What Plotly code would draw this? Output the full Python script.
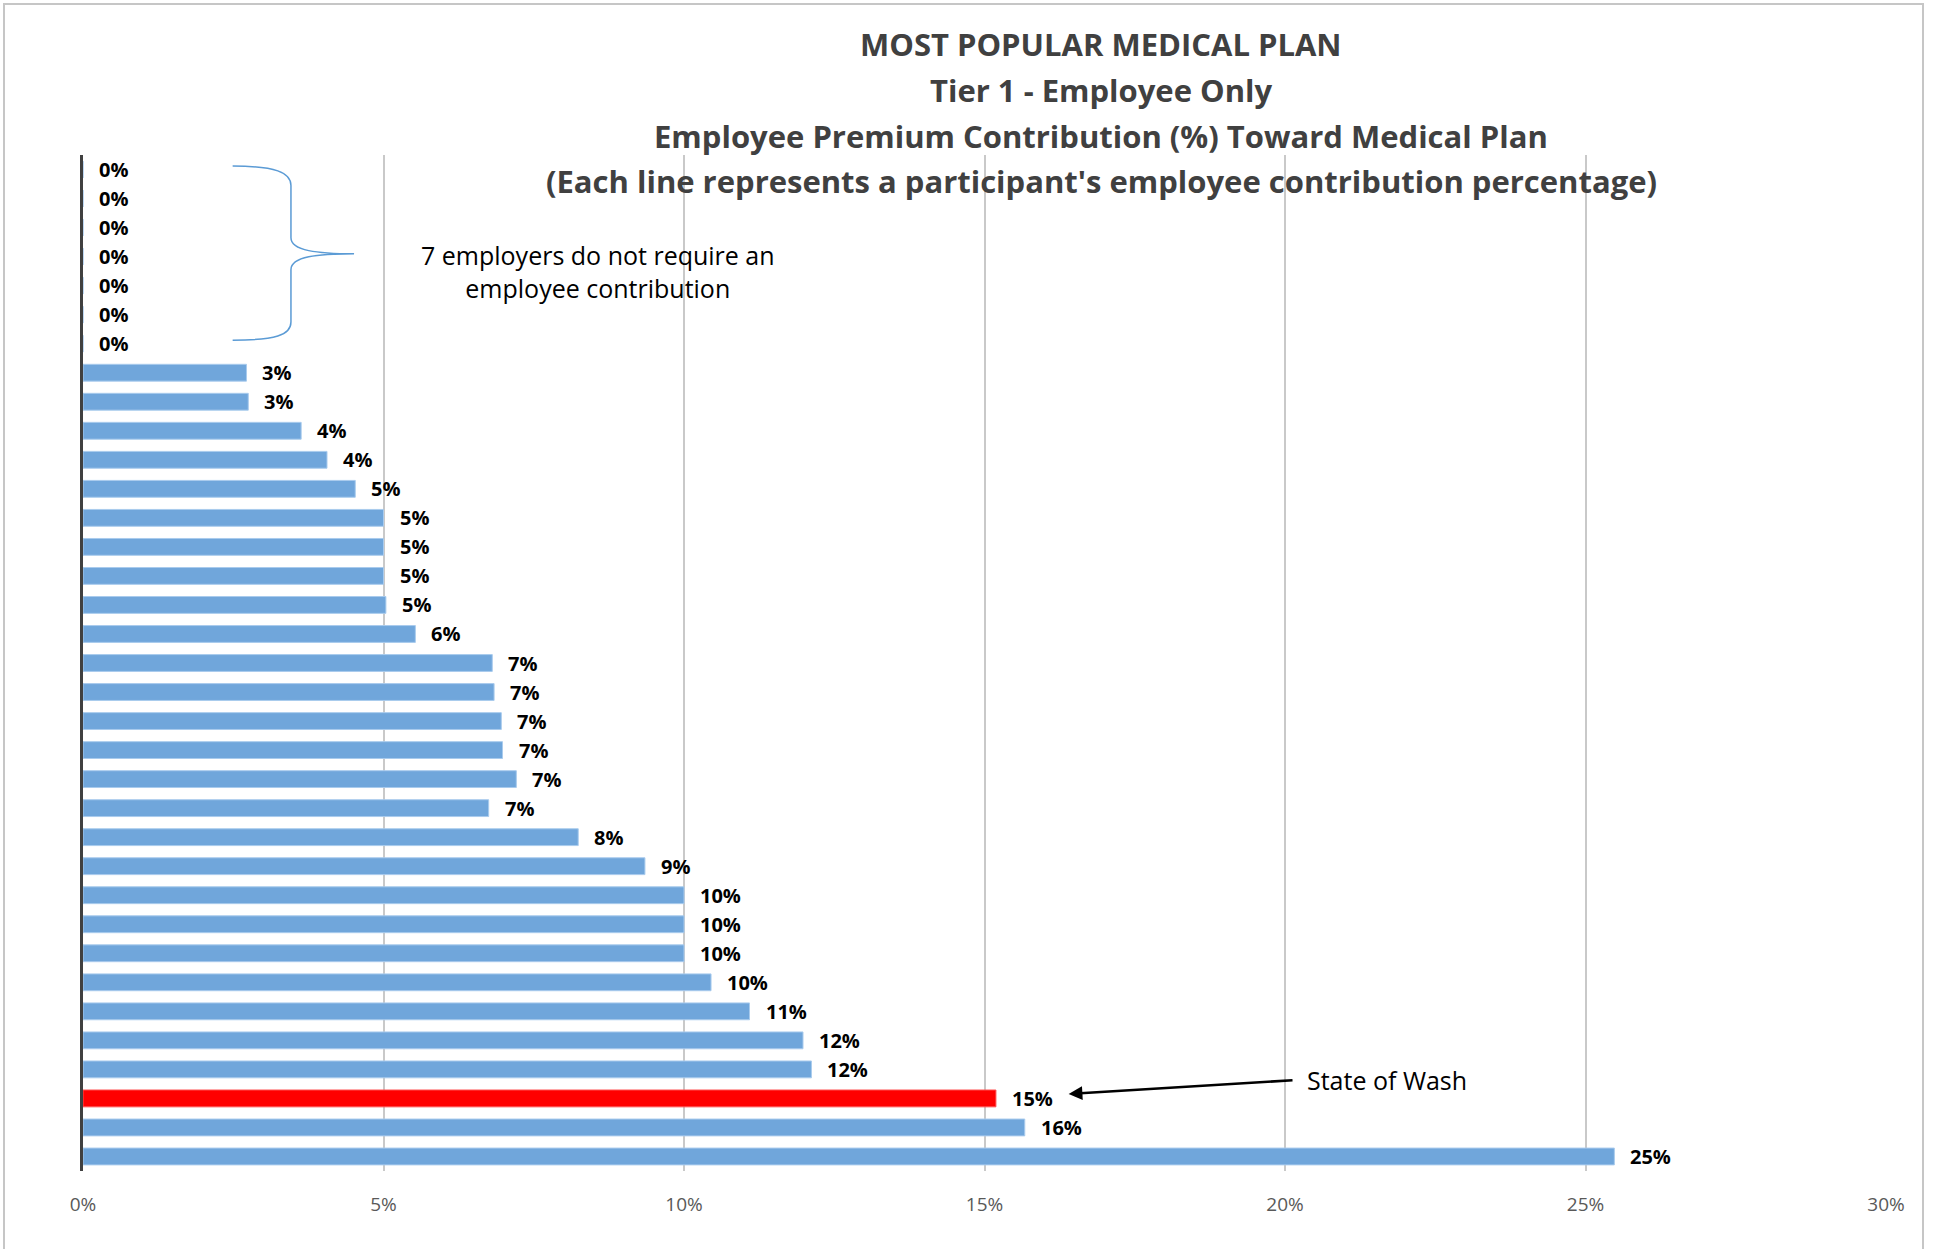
import plotly.graph_objects as go

# Employee share of the Tier 1 (employee-only) premium, one row per participant, in %
contrib_pct = [
    0, 0, 0, 0, 0, 0, 0,
    2.72, 2.75, 3.63, 4.06, 4.53,
    5.0, 5.0, 5.0, 5.04, 5.53,
    6.81, 6.84, 6.96, 6.98, 7.21, 6.75,
    8.24, 9.35,
    10.0, 10.0, 10.0, 10.45, 11.09,
    11.98, 12.12, 15.19, 15.67, 25.48,
]
highlight_row = 32  # State of Washington
x_ticks = [0, 5, 10, 15, 20, 25, 30]
x_tick_text = ["0%", "5%", "10%", "15%", "20%", "25%", "30%"]
title_lines = [
    "MOST POPULAR MEDICAL PLAN",
    "Tier 1 - Employee Only",
    "Employee Premium Contribution (%) Toward Medical Plan",
    "(Each line represents a participant's employee contribution percentage)",
]
zero_note = "7 employers do not require an<br>employee contribution"
state_note = "State of Wash"

W, H = 1933, 1249
L, R, T, B = 83, 47, 155, 78
PW, PH = W - L - R, H - T - B

rows = list(range(len(contrib_pct)))
blue = "#70a6db"
red = "#ff0000"
colors = [red if i == highlight_row else blue for i in rows]
line_colors = ["#ff5050" if i == highlight_row else "#a9cbed" for i in rows]

fig = go.Figure()
fig.add_trace(go.Bar(
    x=contrib_pct, y=rows, orientation="h",
    marker=dict(color=colors, line=dict(color=line_colors, width=1)),
    width=0.58, hoverinfo="skip",
))

# value labels to the right of each bar
annotations = []
for i, v in zip(rows, contrib_pct):
    annotations.append(dict(
        x=v, y=i, xref="x", yref="y", text=f"{round(v)}%",
        showarrow=False, xanchor="left", yanchor="middle", xshift=14,
        font=dict(family="Open Sans", size=20, color="#000000", weight="bold"),
    ))

def px_x(px):
    return (px - L) / PW

def px_y(py):
    return (H - B - py) / PH

title_y = [44, 90, 136, 181]
for line, py in zip(title_lines, title_y):
    annotations.append(dict(
        x=px_x(1101), y=px_y(py), xref="paper", yref="paper", text=line,
        showarrow=False, xanchor="center", yanchor="middle",
        font=dict(family="Open Sans", size=31, color="#404040", weight="bold"),
    ))

annotations.append(dict(
    x=8.57, y=3.5, xref="x", yref="y", text=zero_note, showarrow=False,
    xanchor="center", yanchor="middle",
    font=dict(family="Open Sans", size=25, color="#000000"),
))

# State of Washington callout with arrow
annotations.append(dict(
    x=16.4, y=31.85, xref="x", yref="y", ax=20.15, ay=31.37, axref="x", ayref="y",
    text="", showarrow=True, arrowhead=2, arrowsize=1.1, arrowwidth=2.5,
    arrowcolor="#000000",
))
annotations.append(dict(
    x=20.33, y=31.37, xref="x", yref="y", text=state_note, showarrow=False,
    xanchor="left", yanchor="middle",
    font=dict(family="Open Sans", size=25, color="#000000"),
))

shapes = [
    # outer chart frame
    dict(type="rect", xref="paper", yref="paper",
         x0=px_x(4), x1=px_x(1923), y0=px_y(1262), y1=px_y(4),
         line=dict(color="#c6c6c6", width=2), fillcolor="rgba(0,0,0,0)", layer="below"),
    # curly brace grouping the zero-contribution employers
    dict(type="path", xref="x", yref="y",
         path=("M 2.49,-0.12 C 3.2,-0.12 3.46,0.1 3.46,0.55 "
               "L 3.46,2.35 C 3.46,2.8 3.9,2.9 4.51,2.9 "
               "C 3.9,2.9 3.46,3.0 3.46,3.45 "
               "L 3.46,5.25 C 3.46,5.7 3.2,5.88 2.49,5.88"),
         line=dict(color="#5b9bd5", width=1.5)),
]

fig.update_layout(
    width=W, height=H,
    margin=dict(l=L, r=R, t=T, b=B),
    paper_bgcolor="white", plot_bgcolor="white",
    showlegend=False,
    annotations=annotations,
    shapes=shapes,
    xaxis=dict(
        range=[0, 30], tickvals=x_ticks, ticktext=x_tick_text,
        showgrid=True, gridcolor="#c9c9c9", gridwidth=1.5,
        zeroline=False, showline=False, ticks="",
        ticklabelstandoff=20,
        tickfont=dict(family="Open Sans", size=19, color="#595959"),
    ),
    yaxis=dict(
        range=[len(contrib_pct) - 0.5, -0.5],
        showticklabels=False, showgrid=False, zeroline=False, ticks="",
        showline=True, linecolor="#404040", linewidth=3,
    ),
)

fig.write_html("out.html")
